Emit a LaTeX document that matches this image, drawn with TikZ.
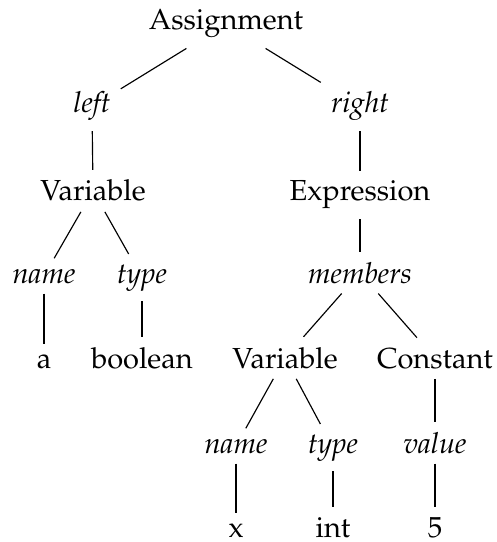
\documentclass[tikz,border=0pt]{standalone}
\usepackage[T1]{fontenc}
\usepackage{mathpazo}
\begin{document}
\begin{tikzpicture}[x=0.345pt,y=-0.345pt,
  tnode/.style={anchor=base},
  role/.style={anchor=base,font=\itshape},
  every path/.style={line width=0.4pt}]
\useasboundingbox (0,0) rectangle (496,542);
% level 0
\node[tnode] (asg) at (226,30) {Assignment};
% level 1
\node[role] (left) at (92,113) {left};
\node[role] (right) at (360,113) {right};
% level 2
\node[tnode] (var1) at (93,201) {Variable};
\node[tnode] (expr) at (360,201) {Expression};
% level 3
\node[role] (name1) at (44,283) {name};
\node[role] (type1) at (142,283) {type};
\node[role] (mem) at (360,283) {members};
% level 4
\node[tnode] (a) at (44,368) {a};
\node[tnode] (bool) at (142,368) {boolean};
\node[tnode] (var2) at (285,368) {Variable};
\node[tnode] (const) at (435,368) {Constant};
% level 5
\node[role] (name2) at (236,453) {name};
\node[role] (type2) at (333,453) {type};
\node[role] (val) at (435,453) {value};
% level 6
\node[tnode] (x) at (236,537) {x};
\node[tnode] (int) at (333,537) {int};
\node[tnode] (five) at (435,537) {5};
% edges
\draw (asg) -- (left);
\draw (asg) -- (right);
\draw (left) -- (var1);
\draw (right) -- (expr);
\draw (var1) -- (name1);
\draw (var1) -- (type1);
\draw (expr) -- (mem);
\draw (name1) -- (a);
\draw (type1) -- (bool);
\draw (mem) -- (var2);
\draw (mem) -- (const);
\draw (var2) -- (name2);
\draw (var2) -- (type2);
\draw (const) -- (val);
\draw (name2) -- (x);
\draw (type2) -- (int);
\draw (val) -- (five);
\end{tikzpicture}
\end{document}
